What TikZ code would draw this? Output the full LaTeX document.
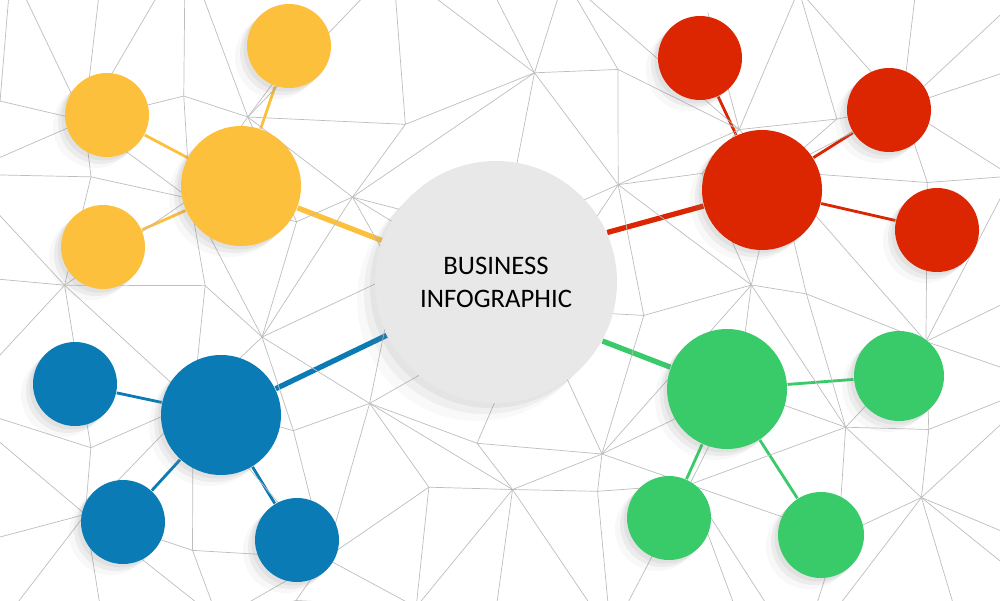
\documentclass[tikz,border=0pt]{standalone}
\usepackage{fontspec}
\setmainfont{Carlito}
\usetikzlibrary{shadows,backgrounds}
\definecolor{yel}{HTML}{FDC03C}
\definecolor{rd}{HTML}{DC2602}
\definecolor{bl}{HTML}{0A7BB4}
\definecolor{gr}{HTML}{39CB6A}
\definecolor{hub}{HTML}{E8E8E8}
\tikzset{
  mesh/.style={draw=black!26,line width=0.2pt},
  dot/.style={circle,inner sep=0pt,fill=#1,
    drop shadow={shadow xshift=-1.2mm,shadow yshift=-1.1mm,opacity=.06},
    drop shadow={shadow xshift=-.7mm,shadow yshift=-.7mm,opacity=.1},
    drop shadow={shadow xshift=-.35mm,shadow yshift=-.35mm,opacity=.1}},
  bigdot/.style={dot=#1,minimum size=1.2cm},
  smalldot/.style={dot=#1,minimum size=0.84cm},
  stem/.style={draw=#1,line width=1.5pt},
  twig/.style={draw=#1,line width=0.8pt}
}
\begin{document}
\begin{tikzpicture}
\useasboundingbox (0,0) rectangle (10,6);
% background mesh
\begin{scope}
\clip (0,0) rectangle (10,6);
\pgfmathsetseed{11}
\foreach \i in {0,...,10}
\foreach \j in {0,...,6}
{
\coordinate (m-\i-\j) at ({-0.3+\i*1.06+0.42*rand},{-0.3+\j*1.08+0.4*rand});
}
\foreach \i [count=\ni] in {0,...,9}
\foreach \j [count=\nj] in {0,...,5}
{
\pgfmathtruncatemacro{\flip}{mod(\i+\j,2)}
\draw[mesh] (m-\i-\j) -- (m-\ni-\j) (m-\i-\j) -- (m-\i-\nj);
\ifnum\flip=0
\draw[mesh] (m-\i-\j) -- (m-\ni-\nj);
\else
\draw[mesh] (m-\ni-\j) -- (m-\i-\nj);
\fi
}
\end{scope}

% hub
\node[circle,inner sep=0pt,minimum size=2.42cm,fill=hub,align=center,
  font=\fontsize{7.6}{9.4}\selectfont,
  drop shadow={shadow xshift=-1.8mm,shadow yshift=-1.8mm,opacity=.05},
  drop shadow={shadow xshift=-1.1mm,shadow yshift=-1.1mm,opacity=.08},
  drop shadow={shadow xshift=-.5mm,shadow yshift=-.5mm,opacity=.1}]
  (hub) at (4.96,3.18) {BUSINESS\\INFOGRAPHIC};

% yellow
\node[bigdot=yel] (y) at (2.41,4.14) {};
\node[smalldot=yel] (y1) at (2.89,5.54) {};
\node[smalldot=yel] (y2) at (1.07,4.85) {};
\node[smalldot=yel] (y3) at (1.03,3.53) {};
% red
\node[bigdot=rd] (r) at (7.62,4.10) {};
\node[smalldot=rd] (r1) at (7.00,5.42) {};
\node[smalldot=rd] (r2) at (8.89,4.90) {};
\node[smalldot=rd] (r3) at (9.37,3.70) {};
% blue
\node[bigdot=bl] (b) at (2.21,1.85) {};
\node[smalldot=bl] (b1) at (0.75,2.16) {};
\node[smalldot=bl] (b2) at (1.23,0.78) {};
\node[smalldot=bl] (b3) at (2.97,0.60) {};
% green
\node[bigdot=gr] (g) at (7.27,2.11) {};
\node[smalldot=gr,minimum size=0.9cm] (g1) at (8.99,2.24) {};
\node[smalldot=gr] (g2) at (6.69,0.82) {};
\node[smalldot=gr,minimum size=0.86cm] (g3) at (8.21,0.65) {};

\begin{scope}[on background layer]
\draw[stem=yel] (hub.160) -- (y);
\draw[stem=rd] (hub.24) -- (r);
\draw[stem=bl] (hub.206) -- (b);
\draw[stem=gr] (hub.331) -- (g);
\foreach \n in {1,2,3}
{
\draw[twig=yel] (y) -- (y\n);
\draw[twig=rd] (r) -- (r\n);
\draw[twig=bl] (b) -- (b\n);
\draw[twig=gr] (g) -- (g\n);
}
\end{scope}
\end{tikzpicture}
\end{document}
